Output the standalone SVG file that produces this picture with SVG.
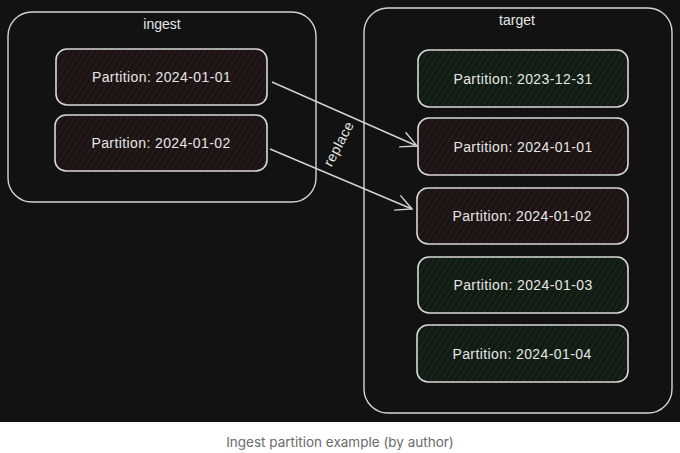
<svg xmlns="http://www.w3.org/2000/svg" width="680" height="453" viewBox="0 0 680 453">
<style>
.cont{fill:none;stroke:#d4d4d4;stroke-width:1.4}
.red{fill:url(#hr);stroke:#d8d8d8;stroke-width:1.6}
.green{fill:url(#hg);stroke:#d8d8d8;stroke-width:1.6}
.lbl{font-family:"Liberation Sans",Arial,sans-serif;font-size:14px;letter-spacing:0.4px;fill:#e6e6e6;text-anchor:middle}
.title{font-family:"Liberation Sans",Arial,sans-serif;font-size:14px;fill:#e6e6e6;text-anchor:middle}
.conn{fill:none;stroke:#d4d4d4;stroke-width:1.4}
.cap{font-family:Inter,"Liberation Sans",sans-serif;font-size:13.5px;fill:#6b6b6b;text-anchor:middle}
</style>
<defs>
<pattern id="hr" patternUnits="userSpaceOnUse" width="5" height="5" patternTransform="rotate(32)">
<rect width="5" height="5" fill="#1a1414"/>
<line x1="0" y1="0" x2="0" y2="5" stroke="#4e2424" stroke-width="1"/>
</pattern>
<pattern id="hg" patternUnits="userSpaceOnUse" width="5" height="5" patternTransform="rotate(32)">
<rect width="5" height="5" fill="#121a13"/>
<line x1="0" y1="0" x2="0" y2="5" stroke="#1f4423" stroke-width="1"/>
</pattern>
<marker id="ah" viewBox="0 0 20 20" refX="18" refY="10" markerWidth="20" markerHeight="20" markerUnits="userSpaceOnUse" orient="auto">
<path d="M2,2 L18,10 L2,18" fill="none" stroke="#d4d4d4" stroke-width="1.4"/>
</marker>
</defs>
<rect x="0" y="0" width="680" height="422" fill="#121212"/>
<rect x="0" y="422" width="680" height="31" fill="#ffffff"/>
<g id="ingest">
<rect class="cont" x="8" y="12" width="308" height="190" rx="24"/>
<text class="title" x="162" y="29">ingest</text>
</g>
<g id="target">
<rect class="cont" x="364" y="8" width="308" height="405" rx="24"/>
<text class="title" x="517" y="25">target</text>
</g>
<g id="ingest-p1">
<rect class="red" x="56" y="49" width="211" height="56" rx="11"/>
<text class="lbl" x="161.5" y="82">Partition: 2024-01-01</text>
</g>
<g id="ingest-p2">
<rect class="red" x="55" y="115" width="212" height="56" rx="11"/>
<text class="lbl" x="161" y="148">Partition: 2024-01-02</text>
</g>
<g id="target-p0">
<rect class="green" x="418" y="50" width="210" height="57" rx="11"/>
<text class="lbl" x="523" y="83.5">Partition: 2023-12-31</text>
</g>
<g id="target-p1">
<rect class="red" x="418" y="118" width="210" height="57" rx="11"/>
<text class="lbl" x="523" y="151.5">Partition: 2024-01-01</text>
</g>
<g id="target-p2">
<rect class="red" x="417" y="188" width="211" height="56" rx="11"/>
<text class="lbl" x="522" y="220.5">Partition: 2024-01-02</text>
</g>
<g id="target-p3">
<rect class="green" x="418" y="257" width="210" height="56" rx="11"/>
<text class="lbl" x="523" y="289.5">Partition: 2024-01-03</text>
</g>
<g id="target-p4">
<rect class="green" x="417" y="325" width="211" height="57" rx="11"/>
<text class="lbl" x="522" y="358.5">Partition: 2024-01-04</text>
</g>
<g id="connectors">
<line class="conn" x1="272" y1="82" x2="417" y2="146" marker-end="url(#ah)"/>
<line class="conn" x1="270" y1="149" x2="412" y2="209" marker-end="url(#ah)"/>
<text class="lbl" transform="translate(343,146) rotate(-62)" x="0" y="0">replace</text>
</g>
<text class="cap" x="340" y="447">Ingest partition example (by author)</text>
</svg>
